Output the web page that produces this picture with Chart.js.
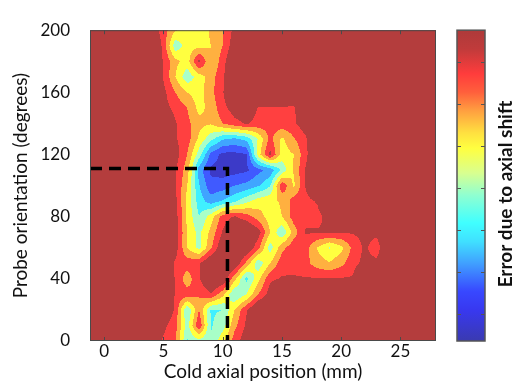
<!DOCTYPE html>
<html>
<head>
<meta charset="utf-8">
<script src="https://cdn.jsdelivr.net/npm/chart.js@4.4.1/dist/chart.umd.min.js"></script>
<style>
  html, body { margin: 0; padding: 0; background: #fff; }
</style>
</head>
<body>
<canvas id="errorChart" width="515" height="381"></canvas>
<script>
// grid of the contour data: axial position (mm) x probe orientation (deg)
const axialPositions = [-1,0,1,2,3,4,5,6,7,8,9,10,11,12,13,14,15,16,17,18,19,20,21,22,23,24,25,26,27,28];
const orientations = [0,10,20,30,40,50,60,70,80,90,100,110,120,130,140,150,160,170,180,190,200];
const xTickValues = [0,5,10,15,20,25];
const yTickValues = [0,40,80,120,160,200];

// error level per grid node (0 = lowest / dark blue, 8+ = highest / dark red), rows from 0 deg up
const errorRows = [
  [9,9,9,9,9, 8.5,7.3,6.8,3.4,4.2,3.6,5.2,7,8.2,9, 9,9,9,9,9,9,9,9,9,9, 9,9,9,9,9],
  [9,9,9,9,9, 9,7.8,6.8,4,7.4,3.4,4,6.2,7.7,9, 9,9,9,9,9,9,9,9,9,9, 9,9,9,9,9],
  [9,9,9,9,9, 9,8.8,7.3,3.5,6.5,3.4,3.5,5.5,7.4,9, 9,9,9,9,9,9,9,9,9,9, 9,9,9,9,9],
  [9,9,9,9,9, 9,9,7.4,7,6.5,7.4,5.8,3.5,4.5,6.5,8,9,9,9,9,9,9,9,9,9, 9,9,9,9,9],
  [9,9,9,9,9, 9,9,7.4,5.9,7.4,9,8.6,5.8,3.2,5.2,7.3,7.6,7.6,7.6,7.6,7.6,7.6,7.6,9,9, 9,9,9,9,9],
  [9,9,9,9,9, 9,9,7.3,7,7.4,8.8,9,8.6,6.2,3.8,5.5,7.1,7.2,6.8,6,5.6,6.2,7.2,7.8,7.8, 9,9,9,9,9],
  [9,9,9,9,9, 9,9,8,5.5,4.2,6.3,8.5,9,8.6,6.8,4,6.2,7.2,6.9,5.4,4.4,5.2,6.8,7.7,6.9, 9,9,9,9,9],
  [9,9,9,9,9, 9,9,8.2,5.4,4.2,5.8,7.6,9,9,8,5.5,3.6,6,7.6,7.6,7.6,7.6,7.6,7.8,7.8, 9,9,9,9,9],
  [9,9,9,9,9, 9,9,8,5.3,3.5,5,7,7.6,7,6,5,5.5,7,7.2,7.2,7.9,9, 9,9,9,9,9,9,9,9],
  [9,9,9,9,9, 9,9,7.8,5.2,3,2,2.6,3.3,4.2,5,5.3,5.6,7,7.2,7.6,9, 9,9,9,9,9,9,9,9,9],
  [9,9,9,9,9, 9,9,7.6,5.5,2.6,0.8,1,1.5,1.8,2.4,3.4,7.3,5.3,7.6,9, 9,9,9,9,9,9,9,9,9,9],
  [9,9,9,9,9, 9,9,7.6,6,2,0.3,0,0.1,0.3,1.2,1.8,3.8,5.6,7.6,9, 9,9,9,9,9,9,9,9,9,9],
  [9,9,9,9,9, 9,9,8,6.5,4,1.2,0.2,0.2,0.4,5,7.8,5,5.5,7.2,9, 9,9,9,9,9,9,9,9,9,9],
  [9,9,9,9,9, 9,9,7.6,7,5.3,3.8,2.6,2.3,2.8,4.6,6.8,5.3,6.4,7.3,9, 9,9,9,9,9,9,9,9,9,9],
  [9,9,9,9,9, 9,9,7.6,6.8,5.8,5.6,6.5,7.2,7.6,7.2,7,7.1,7.3,8.2, 9,9,9,9,9,9,9,9,9,9,9],
  [9,9,9,9,9, 9,7.9,7.2,6.5,5.2,5.8,7.2,8,8.2,7.45,7.4,7.4,7.3,9, 9,9,9,9,9,9,9,9,9,9,9],
  [9,9,9,9,9, 9,7.8,6.5,5.5,5,6.2,7.4,9, 9,9,9,9,9,9,9,9,9,9,9,9,9,9,9,9,9],
  [9,9,9,9,9, 9,7.4,5.5,3.8,5,6,7.3,9, 9,9,9,9,9,9,9,9,9,9,9,9,9,9,9,9,9],
  [9,9,9,9,9, 9,7.4,5.8,5,7.8,5.5,7,9, 9,9,9,9,9,9,9,9,9,9,9,9,9,9,9,9,9],
  [9,9,9,9,9, 9,7.2,3.8,5,5.2,5.5,6.5,8.2, 9,9,9,9,9,9,9,9,9,9,9,9,9,9,9,9,9],
  [9,9,9,9,9, 8.2,7,5.6,5,5,5.6,6.5,7.8, 9,9,9,9,9,9,9,9,9,9,9,9,9,9,9,9,9]
];

// dashed guide line (mm, deg)
const guideX = [-1.2, 10.4, 10.4];
const guideY = [111, 111, 0];

const levelColors = [
  [60, 58, 200], [64, 90, 255], [64, 165, 255], [64, 240, 255], [168, 255, 200],
  [255, 255, 64], [255, 176, 64], [255, 64, 64], [180, 61, 61]
];

function sampleError(xv, yv) {
  const nx = axialPositions.length, ny = orientations.length;
  const dx = axialPositions[1] - axialPositions[0];
  const dy = orientations[1] - orientations[0];
  let fx = (xv - axialPositions[0]) / dx;
  let fy = (yv - orientations[0]) / dy;
  fx = Math.max(0, Math.min(nx - 1.0001, fx));
  fy = Math.max(0, Math.min(ny - 1.0001, fy));
  const i = Math.floor(fx), j = Math.floor(fy);
  const tx = fx - i, ty = fy - j;
  const z00 = errorRows[j][i], z10 = errorRows[j][i + 1];
  const z01 = errorRows[j + 1][i], z11 = errorRows[j + 1][i + 1];
  return (z00 * (1 - tx) + z10 * tx) * (1 - ty) + (z01 * (1 - tx) + z11 * tx) * ty;
}

const contourPlugin = {
  id: 'contour',
  beforeDatasetsDraw(chart) {
    const { ctx, chartArea: a, scales: { x, y } } = chart;
    const left = Math.round(a.left), top = Math.round(a.top);
    const w = Math.round(a.right) - left, h = Math.round(a.bottom) - top;
    const img = ctx.createImageData(w, h);
    for (let j = 0; j < h; j++) {
      const yv = y.getValueForPixel(top + j + 0.5);
      for (let i = 0; i < w; i++) {
        const xv = x.getValueForPixel(left + i + 0.5);
        const z = sampleError(xv, yv);
        const c = levelColors[Math.max(0, Math.min(8, Math.round(z)))];
        const k = (j * w + i) * 4;
        img.data[k] = c[0]; img.data[k + 1] = c[1]; img.data[k + 2] = c[2]; img.data[k + 3] = 255;
      }
    }
    ctx.putImageData(img, left, top);
  },
  afterDraw(chart) {
    const { ctx, chartArea: a, scales: { x } } = chart;
    ctx.save();
    // frame + inward ticks
    ctx.strokeStyle = '#4a4a4a';
    ctx.lineWidth = 1;
    ctx.strokeRect(a.left + 0.5, a.top + 0.5, a.right - a.left - 1, a.bottom - a.top - 1);
    ctx.beginPath();
    xTickValues.forEach(v => {
      const px = Math.round(x.getPixelForValue(v)) + 0.5;
      ctx.moveTo(px, a.top); ctx.lineTo(px, a.top + 4);
      ctx.moveTo(px, a.bottom); ctx.lineTo(px, a.bottom - 4);
    });
    ctx.stroke();

    // colour bar
    const cbL = 457, cbR = 485, cbT = a.top, cbB = a.bottom;
    const g = ctx.createLinearGradient(0, cbT, 0, cbB);
    g.addColorStop(0, '#ae3a3a');
    g.addColorStop(0.06, '#c03b3b');
    g.addColorStop(0.14, '#ff3c3c');
    g.addColorStop(0.2, '#ff603c');
    g.addColorStop(0.26, '#ffa040');
    g.addColorStop(0.33, '#ffe040');
    g.addColorStop(0.38, '#ffff40');
    g.addColorStop(0.46, '#d8ff90');
    g.addColorStop(0.53, '#90ffd0');
    g.addColorStop(0.62, '#40ffff');
    g.addColorStop(0.68, '#40e0ff');
    g.addColorStop(0.75, '#40a0ff');
    g.addColorStop(0.84, '#3848ff');
    g.addColorStop(0.9, '#3838f0');
    g.addColorStop(1, '#3a3ab0');
    ctx.fillStyle = g;
    ctx.fillRect(cbL, cbT, cbR - cbL, cbB - cbT);
    ctx.strokeStyle = '#555';
    ctx.lineWidth = 1.5;
    ctx.strokeRect(cbL, cbT, cbR - cbL, cbB - cbT);
    ctx.lineWidth = 1;
    ctx.beginPath();
    [62, 104, 146, 188, 230, 272, 314].forEach(py => {
      ctx.moveTo(cbL, py + 0.5); ctx.lineTo(cbL + 4, py + 0.5);
      ctx.moveTo(cbR, py + 0.5); ctx.lineTo(cbR - 4, py + 0.5);
    });
    ctx.stroke();

    ctx.translate(506, 194);
    ctx.rotate(-Math.PI / 2);
    ctx.fillStyle = '#111';
    ctx.font = 'bold 19px Lato';
    ctx.textAlign = 'center';
    ctx.textBaseline = 'middle';
    ctx.fillText('Error due to axial shift', 0, 0);
    ctx.restore();
  }
};

const ctx = document.getElementById('errorChart').getContext('2d');
new Chart(ctx, {
  type: 'scatter',
  data: {
    datasets: [{
      data: guideX.map((v, i) => ({ x: v, y: guideY[i] })),
      showLine: true,
      borderColor: '#000',
      borderWidth: 3.5,
      borderDash: [12, 7],
      pointRadius: 0,
      fill: false,
      tension: 0
    }]
  },
  options: {
    responsive: false,
    devicePixelRatio: 1,
    animation: false,
    layout: { padding: { left: 0, top: 19, right: 79, bottom: 0 } },
    scales: {
      x: {
        type: 'linear', min: -1.2, max: 28,
        afterBuildTicks: s => { s.ticks = xTickValues.map(v => ({ value: v })); },
        afterFit: s => { s.height = 40; },
        grid: { display: false, drawTicks: false },
        border: { display: false },
        ticks: { padding: 0, color: '#111', font: { family: 'Lato', size: 17 } },
        title: { display: true, text: 'Cold axial position (mm)', color: '#111',
                 font: { family: 'Lato', size: 19, lineHeight: 1 }, padding: { top: 0, bottom: 0 } }
      },
      y: {
        type: 'linear', min: 0, max: 200,
        afterBuildTicks: s => { s.ticks = yTickValues.map(v => ({ value: v })); },
        afterFit: s => { s.width = 90; },
        grid: { display: false, drawTicks: false },
        border: { display: false },
        ticks: { padding: 20, color: '#111', font: { family: 'Lato', size: 17 } },
        title: { display: true, text: 'Probe orientation (degrees)', color: '#111',
                 font: { family: 'Lato', size: 19, lineHeight: 1 }, padding: { top: 11, bottom: 0 } }
      }
    },
    plugins: { legend: { display: false }, tooltip: { enabled: false } }
  },
  plugins: [contourPlugin]
});
</script>
</body>
</html>
